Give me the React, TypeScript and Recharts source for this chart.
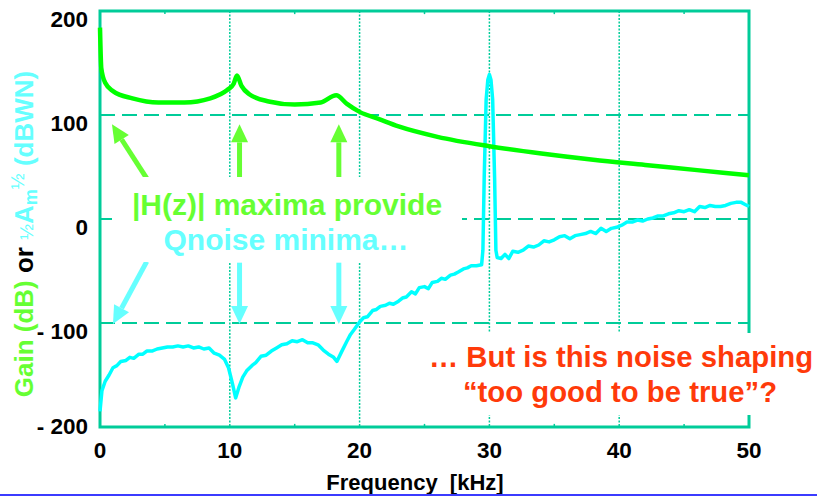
import React from 'react'
import {
  CartesianGrid,
  Line,
  LineChart,
  ReferenceArea,
  ReferenceLine,
  XAxis,
  YAxis,
} from 'recharts'

// |H(z)| gain of the loop filter, dB
const gainFreq = [0, 0.1, 0.4, 1, 2.5, 4.5, 6.5, 8.5, 9.8, 10.3, 10.55, 10.9, 11.5, 13, 15, 17, 18.2, 19, 20, 21.5, 23, 26, 30, 34, 38, 42, 46, 50]
const gainDb = [184, 145, 131, 123, 116, 112, 112, 116, 124, 130, 138, 128, 120, 113, 110, 112, 119, 111, 103, 96, 89, 79, 70, 63, 57, 52, 47, 42]

// half-amplitude quantisation noise spectrum, dBWN
const noiseFreq = [
  0, 0.15, 0.4, 0.7, 1, 1.3, 1.6, 2, 2.3, 2.6, 3, 3.3, 3.6, 4, 4.4, 4.8, 5.2, 5.6, 6, 6.4, 6.8,
  7.2, 7.6, 8, 8.4, 8.8, 9.2, 9.6, 9.9, 10.2, 10.45, 10.7, 11, 11.3, 11.7, 12, 12.4, 12.8, 13.2,
  13.6, 14, 14.4, 14.8, 15.2, 15.6, 16, 16.4, 16.8, 17.2, 17.6, 18, 18.25, 18.6, 19, 19.3, 19.6,
  20, 20.3, 20.6, 21, 21.3, 21.6, 22, 22.3, 22.6, 23, 23.3, 23.6, 24, 24.3, 24.6, 25, 25.3, 25.6,
  26, 26.3, 26.6, 27, 27.3, 27.6, 28, 28.3, 28.6, 29, 29.4,
  29.5, 29.6, 29.75, 29.88, 30, 30.12, 30.25, 30.4, 30.5,
  30.6, 30.9, 31.2, 31.5, 31.8, 32.2, 32.6, 33, 33.4, 33.8, 34.2, 34.6, 35, 35.4, 35.8, 36.2,
  36.6, 37, 37.4, 37.8, 38.2, 38.6, 39, 39.4, 39.8, 40.2, 40.6, 41, 41.4, 41.8, 42.2, 42.6, 43,
  43.4, 43.8, 44.2, 44.6, 45, 45.4, 45.8, 46.2, 46.6, 47, 47.4, 47.8, 48.2, 48.6, 49, 49.4, 49.7, 50,
]
const noiseDb = [
  -185, -165, -156, -150, -143, -141, -137, -136, -133, -134, -130, -130, -127, -127, -125, -124, -123, -123, -122, -123, -122,
  -124, -123, -125, -124, -129, -131, -135, -143, -158, -172, -162, -152, -146, -141, -138, -132, -131, -127,
  -124, -121, -120, -117, -118, -116, -119, -119, -121, -126, -130, -133, -137, -128, -118, -111, -106,
  -99, -95, -94, -88, -87, -84, -83, -81, -82, -79, -76, -75, -70, -72, -66, -65, -67, -61,
  -60, -57, -58, -54, -53, -51, -48, -47, -45, -45, -44,
  -30, 40, 115, 134, 139, 134, 115, 40, -30,
  -37, -38, -34, -38, -31, -32, -30, -26, -27, -25, -21, -22, -20, -17, -16, -19,
  -16, -15, -14, -12, -14, -9, -12, -9, -8, -6, -3, -3, -1, -2, 0, 1, 3,
  3, 5, 6, 8, 7, 9, 7, 12, 11, 13, 12, 12, 13, 15, 16, 16, 14, 12,
]

const xTicks = [0, 10, 20, 30, 40, 50]
const yTicks = [-200, -100, 0, 100, 200]
const dashedLevels = [100, 0, -100]
const minorTicks = [5, 15, 25, 35, 45]

// annotation arrows: [fromFreq, fromDb, toFreq, toDb]
const gainArrows = [
  [3.6, 39, 0.92, 91],
  [10.75, 39, 10.75, 91],
  [18.4, 39, 18.4, 91],
]
const noiseArrows = [
  [3.6, -41, 1.0, -101],
  [10.75, -42, 10.75, -101],
  [18.4, -42, 18.4, -101],
]

const gainData = gainFreq.map((f, i) => ({ f, v: gainDb[i] }))
const noiseData = noiseFreq.map((f, i) => ({ f, v: noiseDb[i] }))

const TEAL = '#00cc99'
const GREEN = '#00ff00'
const CYAN = '#00ffff'
const LIGHT_GREEN = '#66ff33'
const LIGHT_CYAN = '#66ffff'
const RED = '#ff3a0a'
const FONT = '"Liberation Sans", Arial, sans-serif'

function arrowShape(color: string) {
  return (props: any) => {
    const { x1, y1, x2, y2 } = props
    const dx = x2 - x1
    const dy = y2 - y1
    const len = Math.sqrt(dx * dx + dy * dy) || 1
    const ux = dx / len
    const uy = dy / len
    const head = 18
    const half = 8.5
    const bx = x2 - ux * head
    const by = y2 - uy * head
    const pts = `${x2},${y2} ${bx - uy * half},${by + ux * half} ${bx + uy * half},${by - ux * half}`
    return (
      <g>
        <line x1={x1} y1={y1} x2={bx} y2={by} stroke={color} strokeWidth={5} />
        <polygon points={pts} fill={color} />
      </g>
    )
  }
}

const YTick = (props: any) => {
  const { x, y, payload } = props
  const v = payload.value as number
  const label = v < 0 ? `- ${-v}` : `${v}`
  return (
    <text x={x} y={y + (v === -200 ? 7 : 16)} textAnchor="end" fontFamily={FONT} fontWeight="bold" fontSize={22.5} fill="#000">
      {label}
    </text>
  )
}

const XTick = (props: any) => {
  const { x, payload } = props
  return (
    <text x={x} y={458} textAnchor="middle" fontFamily={FONT} fontWeight="bold" fontSize={22.5} fill="#000">
      {payload.value}
    </text>
  )
}

export default function App() {
  return (
    <div style={{ position: 'fixed', left: 0, top: 0, width: 817, height: 496, background: '#fff', overflow: 'hidden' }}>
      <LineChart width={817} height={496} data={gainData} margin={{ top: 11, right: 68, bottom: 0, left: 0 }}>
        <CartesianGrid horizontal={false} stroke={TEAL} strokeWidth={1.5} strokeDasharray="2 1.5" />
        <XAxis
          dataKey="f"
          type="number"
          domain={[0, 50]}
          ticks={xTicks}
          height={69}
          axisLine={false}
          tickLine={false}
          tick={<XTick />}
          interval={0}
        />
        <YAxis
          type="number"
          domain={[-200, 200]}
          ticks={yTicks}
          width={100}
          axisLine={false}
          tickLine={false}
          tickSize={0}
          tickMargin={12}
          tick={<YTick />}
          interval={0}
        />
        {dashedLevels.map((y) => (
          <ReferenceLine key={`h${y}`} y={y} stroke={TEAL} strokeWidth={2} strokeDasharray="15 7" />
        ))}
        {minorTicks.map((x) => (
          <ReferenceLine key={`t${x}`} segment={[{ x, y: 200 }, { x, y: 197 }]} stroke={TEAL} strokeWidth={1.5} />
        ))}
        {minorTicks.map((x) => (
          <ReferenceLine key={`b${x}`} segment={[{ x, y: -200 }, { x, y: -197 }]} stroke={TEAL} strokeWidth={1.5} />
        ))}
        <ReferenceArea x1={0} x2={50} y1={-200} y2={200} fill="none" stroke={TEAL} strokeWidth={3} />
        {gainArrows.map(([fx, fy, tx, ty], i) => (
          <ReferenceLine
            key={`ga${i}`}
            segment={[{ x: fx, y: fy }, { x: tx, y: ty }]}
            ifOverflow="visible"
            shape={arrowShape(LIGHT_GREEN)}
          />
        ))}
        {noiseArrows.map(([fx, fy, tx, ty], i) => (
          <ReferenceLine
            key={`na${i}`}
            segment={[{ x: fx, y: fy }, { x: tx, y: ty }]}
            ifOverflow="visible"
            shape={arrowShape(LIGHT_CYAN)}
          />
        ))}
        <Line
          data={noiseData}
          dataKey="v"
          type="linear"
          stroke={CYAN}
          strokeWidth={3.5}
          dot={false}
          activeDot={false}
          strokeLinejoin="round"
          isAnimationActive={false}
        />
        <Line
          data={gainData}
          dataKey="v"
          type="monotone"
          stroke={GREEN}
          strokeWidth={4.5}
          dot={false}
          activeDot={false}
          strokeLinejoin="round"
          isAnimationActive={false}
        />
      </LineChart>

      <svg width={817} height={496} style={{ position: 'absolute', left: 0, top: 0, pointerEvents: 'none' }}>
        <text
          transform="translate(33,234) rotate(-90)"
          textAnchor="middle"
          fontFamily={FONT}
          fontWeight="bold"
          fontSize={26}
          style={{ whiteSpace: 'pre' }}
        >
          <tspan fill={LIGHT_GREEN}>Gain (dB)</tspan>
          <tspan fill="#000"> or </tspan>
          <tspan fill={LIGHT_CYAN} fontSize={19} fontWeight="normal">½</tspan>
          <tspan fill={LIGHT_CYAN}>A</tspan>
          <tspan fill={LIGHT_CYAN} fontSize={18} dy={4}>m</tspan>
          <tspan fill={LIGHT_CYAN} fontSize={19} fontWeight="normal" dy={-13}>½</tspan>
          <tspan fill={LIGHT_CYAN} dy={9}> (dBWN)</tspan>
        </text>

        <rect x={112} y={177} width={350} height={85} fill="#fff" />
        <text x={287} y={215} textAnchor="middle" fontFamily={FONT} fontWeight="bold" fontSize={30} fill={LIGHT_GREEN}>
          |H(z)| maxima provide
        </text>
        <text x={286} y={250} textAnchor="middle" fontFamily={FONT} fontWeight="bold" fontSize={30} fill={LIGHT_CYAN}>
          Qnoise minima…
        </text>

        <rect x={428} y={333} width={389} height={82} fill="#fff" />
        <text x={621} y={367} textAnchor="middle" fontFamily={FONT} fontWeight="bold" fontSize={29.3} fill={RED}>
          … But is this noise shaping
        </text>
        <text x={620} y={402} textAnchor="middle" fontFamily={FONT} fontWeight="bold" fontSize={29.3} fill={RED}>
          “too good to be true”?
        </text>

        <text x={415} y={490} textAnchor="middle" fontFamily={FONT} fontWeight="bold" fontSize={22} fill="#000" style={{ whiteSpace: 'pre' }}>
          Frequency  [kHz]
        </text>
      </svg>

      <div style={{ position: 'absolute', left: 0, top: 494, width: 817, height: 2, background: '#3b3bff' }} />
    </div>
  )
}
